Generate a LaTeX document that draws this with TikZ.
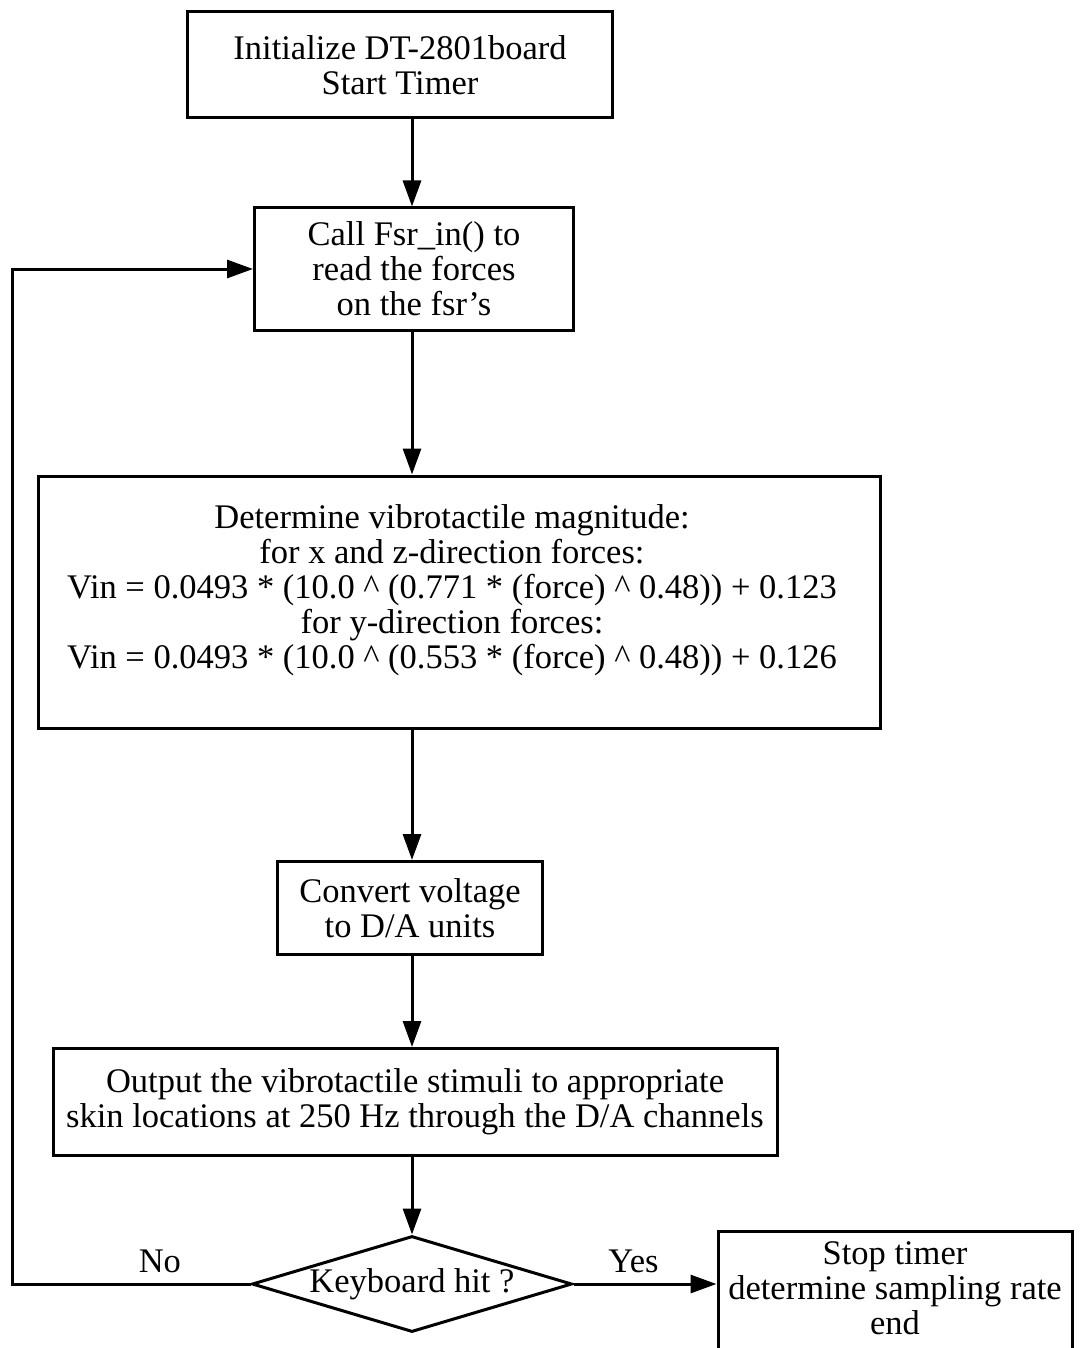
\documentclass[tikz,border=0pt]{standalone}
\usepackage{fontspec}
\setmainfont{Liberation Serif}
\usetikzlibrary{arrows.meta,shapes.geometric}
\begin{document}
\begin{tikzpicture}[x=1pt,y=-1pt]
	\tikzstyle{block}=[rectangle, draw=black, line width=3pt, align=center, inner sep=0pt, font=\fontsize{34.5}{35}\selectfont]
	\tikzstyle{plain}=[align=center, inner sep=0pt, font=\fontsize{34.5}{35}\selectfont]
	\tikzstyle{flow}=[line width=3pt, -{Triangle[length=26pt,width=18pt]}]
	\clip (0,0) rectangle (1082,1348);
	\fill[white] (0,0) rectangle (1082,1348);
	\coordinate (spine) at (412,0);
	\coordinate (loopx) at (12,0);
	\draw node[block, minimum width=425, minimum height=106] at (400,65) (init) {Initialize DT-2801board\\Start Timer};
	\draw node[block, minimum width=319, minimum height=122] at (414,269) (readfsr) {Call Fsr\_in() to\\read the forces\\on the fsr's};
	\draw node[block, minimum width=842, minimum height=252] at (459,602) (magn) {};
	\draw node[plain] at (452,590) (magntxt) {Determine vibrotactile magnitude:\\for x and z-direction forces:\\Vin = 0.0493 * (10.0 \^{} (0.771 * (force) \^{} 0.48)) + 0.123\\for y-direction forces:\\Vin = 0.0493 * (10.0 \^{} (0.553 * (force) \^{} 0.48)) + 0.126};
	\draw node[block, minimum width=265, minimum height=93] at (410,908) (convert) {Convert voltage\\to D/A units};
	\draw node[block, minimum width=724, minimum height=107, inner xsep=2pt] at (415,1102) (output) {Output the vibrotactile stimuli to appropriate\\skin locations at 250 Hz through the D/A channels};
	\draw node[diamond, draw=black, line width=3pt, inner sep=0pt, aspect=3.3, minimum width=320, minimum height=96, font=\fontsize{34.5}{35}\selectfont] at (412,1284) (keyhit) {Keyboard hit ?};
	\draw node[block, anchor=north, minimum width=354, inner ysep=10pt, text depth=40pt] at (895,1230) (stop) {Stop timer\\determine sampling rate\\end};

	\draw [flow] (init.south -| spine) -- (readfsr.north -| spine);
	\draw [flow] (readfsr.south -| spine) -- (magn.north -| spine);
	\draw [flow] (magn.south -| spine) -- (convert.north -| spine);
	\draw [flow] (convert.south -| spine) -- (output.north -| spine);
	\draw [flow] (output.south -| spine) -- (keyhit.north);
	\draw [flow] (keyhit.west) -- node[pos=0.38, above=10pt, plain] {No} (keyhit.west -| loopx) |- (readfsr.west);
	\draw [flow] (keyhit.east) -- node[pos=0.42, above=10pt, plain] {Yes} (keyhit.east -| stop.west);
	\end{tikzpicture}
\end{document}
